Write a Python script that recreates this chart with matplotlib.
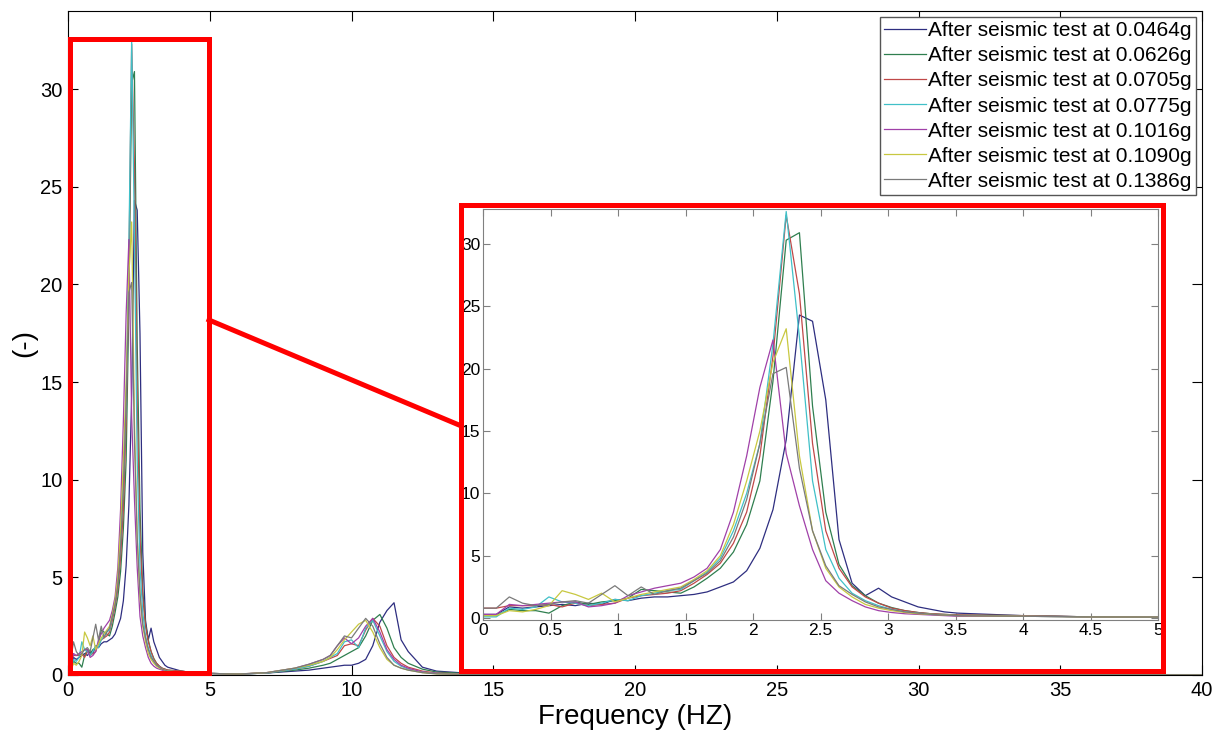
import numpy as np
import matplotlib
matplotlib.use("Agg")
import matplotlib.pyplot as plt
from matplotlib.patches import Rectangle
from matplotlib.lines import Line2D

plt.rcParams['font.family'] = ['Liberation Sans', 'DejaVu Sans']

# ---------------- data ----------------
freq_low = [0.000, 0.098, 0.195, 0.293, 0.391, 0.488, 0.586, 0.684, 0.781, 0.879,
            0.977, 1.074, 1.172, 1.270, 1.367, 1.465, 1.563, 1.660, 1.758, 1.855,
            1.953, 2.051, 2.148, 2.246, 2.344, 2.441, 2.539, 2.637, 2.734, 2.832,
            2.930, 3.027, 3.125, 3.223, 3.320, 3.418, 3.516]
freq_high = [4.0, 4.5, 5.0, 6.0, 7.0, 8.0, 8.5, 9.0, 9.25, 9.5, 9.75, 10.0, 10.25,
             10.5, 10.75, 11.0, 11.25, 11.5, 11.75, 12.0, 12.5, 13.0, 14.0, 15.0,
             20.0, 30.0, 40.0]

labels = ["After seismic test at 0.0464g", "After seismic test at 0.0626g",
          "After seismic test at 0.0705g", "After seismic test at 0.0775g",
          "After seismic test at 0.1016g", "After seismic test at 0.1090g",
          "After seismic test at 0.1386g"]

navy_low = [0.3, 0.3, 0.9, 0.8, 0.9, 1.0, 1.1, 1.0, 1.2, 1.1, 1.5, 1.4, 1.6, 1.7, 1.7,
            1.8, 1.9, 2.1, 2.5, 2.9, 3.8,
            5.6, 8.7, 14.3, 24.3, 23.8, 17.5, 6.3,
            2.8, 1.8, 2.4, 1.7, 1.3, 0.9, 0.7, 0.5, 0.4]
green_low = [0.2, 0.2, 0.7, 0.6, 0.6, 0.4, 1.0, 1.3, 1.1, 1.3, 1.4, 1.6, 2.3, 2.2, 2.1,
             2.0, 2.5, 3.2, 4.0, 5.3, 7.5,
             11.0, 19.0, 30.3, 30.9, 17.0, 8.5, 4.3,
             2.6, 1.8, 1.2, 0.85, 0.6, 0.45, 0.35, 0.3, 0.25]
red_low = [0.8, 0.8, 1.0, 1.0, 1.0, 1.1, 0.9, 1.2, 1.0, 1.1, 1.2, 1.6, 1.8, 1.9, 2.0,
           2.2, 2.8, 3.5, 4.4, 6.0, 8.5,
           13.0, 21.0, 32.3, 26.0, 14.0, 7.0, 4.0,
           2.5, 1.7, 1.2, 0.8, 0.6, 0.45, 0.35, 0.3, 0.25]
cyan_low = [0.1, 0.1, 0.8, 0.7, 0.9, 1.7, 1.3, 1.2, 1.0, 1.2, 1.5, 1.4, 1.8, 2.0, 2.2,
            2.3, 3.0, 3.7, 4.8, 7.0, 10.0,
            14.0, 22.0, 32.6, 22.5, 11.0, 5.5, 3.2,
            2.0, 1.4, 1.0, 0.7, 0.5, 0.4, 0.3, 0.25, 0.2]
purple_low = [0.3, 0.3, 1.1, 1.0, 1.1, 1.2, 1.3, 1.3, 0.9, 1.0, 1.2, 1.8, 2.1, 2.4, 2.6,
              2.8, 3.3, 4.0, 5.5, 8.5, 13.0,
              18.5, 22.3, 13.2, 9.0, 5.5, 3.0, 2.0,
              1.4, 0.9, 0.6, 0.45, 0.35, 0.3, 0.25, 0.2, 0.15]
yellow_low = [0.2, 0.2, 0.6, 0.5, 0.7, 1.0, 2.2, 1.9, 1.5, 2.0, 1.3, 1.6, 1.9, 2.1, 2.3,
              2.5, 3.1, 3.8, 5.0, 7.5, 11.0,
              15.0, 20.5, 23.2, 13.0, 7.0, 4.0, 2.5,
              1.7, 1.1, 0.8, 0.6, 0.45, 0.35, 0.3, 0.25, 0.2]
gray_low = [0.8, 0.8, 1.7, 1.2, 1.0, 1.1, 1.3, 1.4, 1.2, 1.9, 2.6, 1.8, 2.5, 1.9, 2.2,
            2.4, 3.0, 3.6, 4.6, 6.5, 9.5,
            14.0, 19.6, 20.1, 12.0, 7.0, 4.2, 2.6,
            1.9, 1.3, 0.9, 0.7, 0.5, 0.4, 0.3, 0.25, 0.2]

navy_high = [0.2, 0.1, 0.08, 0.05, 0.1, 0.2, 0.25, 0.35, 0.4, 0.45, 0.5, 0.5, 0.6, 0.8,
             1.5, 2.7, 3.3, 3.7, 1.8, 1.2, 0.4, 0.2, 0.1, 0.05, 0.02, 0.02, 0.02]
green_high = [0.2, 0.1, 0.08, 0.05, 0.1, 0.25, 0.35, 0.5, 0.6, 0.8, 1.0, 1.2, 1.4, 2.0,
              2.8, 3.1, 2.4, 1.4, 0.9, 0.6, 0.3, 0.15, 0.08, 0.04, 0.02, 0.01, 0.01]
red_high = [0.2, 0.1, 0.08, 0.05, 0.1, 0.3, 0.45, 0.7, 0.85, 1.0, 1.5, 1.6, 1.5, 2.3,
            2.9, 2.5, 1.5, 0.9, 0.6, 0.4, 0.2, 0.1, 0.05, 0.03, 0.02, 0.01, 0.01]
cyan_high = [0.15, 0.1, 0.08, 0.05, 0.1, 0.3, 0.45, 0.7, 0.9, 1.1, 1.7, 1.8, 1.4, 2.4,
             2.8, 2.0, 1.2, 0.7, 0.45, 0.3, 0.15, 0.08, 0.05, 0.03, 0.02, 0.01, 0.01]
purple_high = [0.15, 0.1, 0.08, 0.05, 0.12, 0.35, 0.55, 0.8, 1.0, 1.5, 1.9, 1.6, 1.9, 2.5,
               2.9, 2.2, 1.3, 0.8, 0.5, 0.35, 0.15, 0.08, 0.05, 0.03, 0.02, 0.01, 0.01]
yellow_high = [0.15, 0.1, 0.08, 0.05, 0.12, 0.35, 0.5, 0.7, 0.9, 1.3, 1.8, 2.2, 2.6, 2.8,
               2.2, 1.4, 0.8, 0.5, 0.35, 0.25, 0.12, 0.06, 0.04, 0.03, 0.02, 0.01, 0.01]
gray_high = [0.15, 0.1, 0.08, 0.05, 0.12, 0.35, 0.55, 0.8, 1.0, 1.5, 2.0, 1.9, 2.4, 2.9,
             2.5, 1.6, 0.9, 0.5, 0.35, 0.25, 0.12, 0.06, 0.04, 0.03, 0.02, 0.01, 0.01]

colors = ['#2e2e80', '#2f7f4f', '#c04848', '#40c0c8', '#a040a8', '#c8c840', '#7a7a7a']

series_low = [navy_low, green_low, red_low, cyan_low, purple_low, yellow_low, gray_low]
series_high = [navy_high, green_high, red_high, cyan_high, purple_high, yellow_high, gray_high]

W, H = 1224, 731
def fx(px):
    return px / W
def fy(py):
    return 1 - py / H

fig = plt.figure(figsize=(W / 100, H / 100), dpi=100)
ax = fig.add_axes([fx(68), fy(675), fx(1202) - fx(68), fy(11) - fy(675)])

for lo, hi, c, lab in zip(series_low, series_high, colors, labels):
    f = list(freq_low) + list(freq_high)
    v = list(lo) + list(hi)
    ax.plot(f, v, color=c, lw=0.9, label=lab)

ax.set_xlim(0, 40)
ax.set_ylim(0, 34)
ax.set_xticks(np.arange(0, 41, 5))
ax.set_yticks(np.arange(0, 31, 5))
ax.tick_params(direction='in', top=True, right=True, length=7, labelsize=14.5, pad=4)
ax.set_xlabel("Frequency (HZ)", fontsize=20, labelpad=3)
ax.set_ylabel("(-)", fontsize=20, labelpad=2)

leg = ax.legend(loc='upper right', fontsize=15, frameon=True, fancybox=False,
                edgecolor='#555555', framealpha=1, handlelength=2.0,
                handletextpad=0.1, borderaxespad=0.3, labelspacing=0.29,
                borderpad=0.2)
leg.get_frame().set_linewidth(1.0)

# red rectangle in main axes
ax.add_patch(Rectangle((0.07, 0.1), 4.9, 32.45, fill=False, edgecolor='#ff0000',
                       lw=3.6, clip_on=False, zorder=10))

# inset axes
ins = fig.add_axes([fx(483), fy(620), fx(1158) - fx(483), fy(209) - fy(620)])
for lo, hi, c in zip(series_low, series_high, colors):
    f = list(freq_low) + list(freq_high)
    v = list(lo) + list(hi)
    ins.plot(f, v, color=c, lw=0.9)
ins.set_xlim(0, 5)
ins.set_ylim(-0.15, 32.8)
ins.set_xticks(np.arange(0, 5.01, 0.5))
ins.set_xticklabels(["0", "0.5", "1", "1.5", "2", "2.5", "3", "3.5", "4", "4.5", "5"])
ins.set_yticks(np.arange(0, 31, 5))
ins.tick_params(direction='in', top=True, right=True, length=5, labelsize=12.5,
                pad=2, color='#808080')
for sp in ins.spines.values():
    sp.set_color('#808080')

# red rectangle around inset + connector
fig.add_artist(Rectangle((fx(461), fy(671)), fx(1163) - fx(461), fy(205) - fy(671),
                         fill=False, edgecolor='#ff0000', lw=3.6,
                         transform=fig.transFigure))
fig.add_artist(Line2D([fx(209), fx(459)], [fy(320), fy(425)], color='#ff0000',
                      lw=3.6, transform=fig.transFigure))

fig.savefig("out.png", dpi=100)
